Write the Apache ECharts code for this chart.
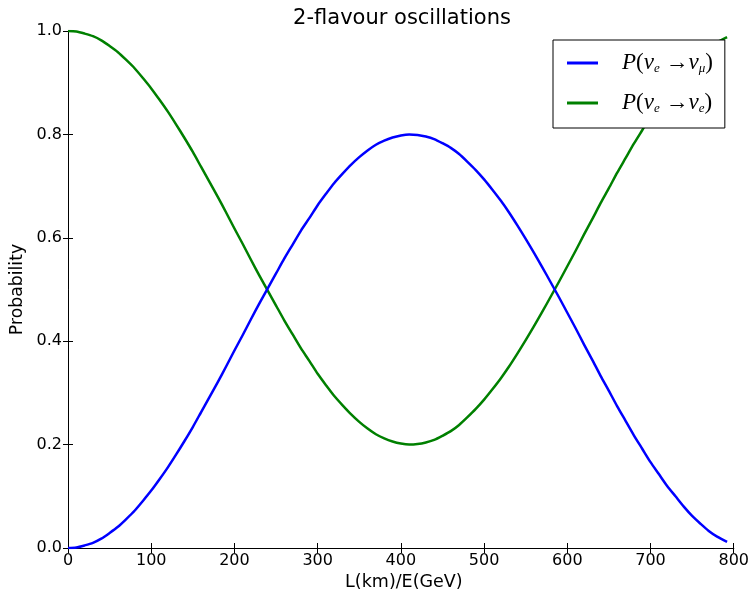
<!DOCTYPE html>
<html>
<head>
<meta charset="utf-8">
<script src="https://cdn.jsdelivr.net/npm/echarts@6/dist/echarts.min.js"></script>
<style>html,body{margin:0;padding:0;background:#fff;}#c{width:752px;height:597px;}</style>
</head>
<body>
<div id="c"></div>
<script>
// L/E values (km/GeV)
var xs = [0,10,20,30,40,50,60,70,80,90,100,110,120,130,140,150,160,170,180,190,200,210,220,230,240,250,260,270,280,290,300,310,320,330,340,350,360,370,380,390,400,410,420,430,440,450,460,470,480,490,500,510,520,530,540,550,560,570,580,590,600,610,620,630,640,650,660,670,680,690,700,710,720,730,740,750,760,770,780,792];
// P(nu_e -> nu_mu)
var pMu = [0,0.001,0.005,0.010,0.018,0.029,0.041,0.056,0.072,0.091,0.111,0.133,0.156,0.181,0.207,0.234,0.263,0.292,0.321,0.351,0.382,0.412,0.443,0.473,0.502,0.531,0.560,0.587,0.614,0.638,0.663,0.685,0.706,0.724,0.741,0.756,0.769,0.780,0.788,0.794,0.798,0.800,0.799,0.796,0.791,0.783,0.774,0.762,0.747,0.731,0.713,0.693,0.672,0.649,0.624,0.598,0.571,0.543,0.514,0.485,0.455,0.425,0.394,0.364,0.333,0.304,0.274,0.246,0.218,0.192,0.166,0.143,0.120,0.100,0.080,0.062,0.047,0.033,0.022,0.012];
// P(nu_e -> nu_e)
var pE = [1,0.999,0.995,0.990,0.982,0.971,0.959,0.944,0.928,0.909,0.889,0.867,0.844,0.819,0.793,0.766,0.737,0.708,0.679,0.649,0.618,0.588,0.557,0.527,0.498,0.469,0.440,0.413,0.386,0.362,0.337,0.315,0.294,0.276,0.259,0.244,0.231,0.220,0.212,0.206,0.202,0.200,0.201,0.204,0.209,0.217,0.226,0.238,0.253,0.269,0.287,0.307,0.328,0.351,0.376,0.402,0.429,0.457,0.486,0.515,0.545,0.575,0.606,0.636,0.667,0.696,0.726,0.754,0.782,0.808,0.834,0.857,0.880,0.900,0.920,0.938,0.953,0.967,0.978,0.988];
var xTicks = [0,100,200,300,400,500,600,700,800];
var yTicks = [0.0,0.2,0.4,0.6,0.8,1.0];
var seriesNames = ['mu','e'];

function pairs(a){ return xs.map(function(x,i){return [x,a[i]];}); }

var chart = echarts.init(document.getElementById('c'), null, {renderer:'canvas'});
var font = 'DejaVu Sans';
var axisCommon = {
  axisLine:{show:true, lineStyle:{color:'#000', width:1}},
  axisTick:{show:true, inside:true, length:5, lineStyle:{color:'#000'}},
  splitLine:{show:false}
};
var rich = {
  i:{fontFamily:'Liberation Serif', fontStyle:'italic', fontSize:23, color:'#000'},
  n:{fontFamily:'Liberation Serif', fontSize:23, color:'#000'},
  s:{fontFamily:'Liberation Serif', fontStyle:'italic', fontSize:13, color:'#000', padding:[12,0,0,0]},
  g:{width:19}
};
chart.setOption({
  animation:false,
  backgroundColor:'#fff',
  title:{text:'2-flavour oscillations', left:397, top:3, textAlign:'center',
    textStyle:{fontFamily:font, fontWeight:'normal', fontSize:21, color:'#000'}},
  grid:{left:68, right:17, top:31, bottom:49},
  legend:{
    orient:'vertical', left:553, top:40,
    backgroundColor:'#fff', borderColor:'#000', borderWidth:1,
    padding:[10,12,12,14], itemGap:14,
    itemWidth:31, itemHeight:3, icon:'rect',
    data:seriesNames,
    formatter:function(n){
      if(n==='mu') return '{g|}{i|P}{n|(}{i|ν}{s|e}{n| →}{i|ν}{s|μ}{n|)}';
      return '{g|}{i|P}{n|(}{i|ν}{s|e}{n| →}{i|ν}{s|e}{n|)}';
    },
    textStyle:{rich:rich, lineHeight:26}
  },
  xAxis:[
    Object.assign({type:'value', min:0, max:800, interval:100, position:'bottom',
      name:'L(km)/E(GeV)', nameLocation:'middle', nameGap:25,
      nameTextStyle:{fontFamily:font, fontSize:17.5, color:'#000', padding:[0,0,0,6]},
      axisLabel:{fontFamily:font, fontSize:16, color:'#000', margin:5}}, axisCommon),
    Object.assign({type:'value', min:0, max:800, interval:100, position:'top',
      axisLabel:{show:false}}, axisCommon)
  ],
  yAxis:[
    Object.assign({type:'value', min:0, max:1, interval:0.2, position:'left',
      name:'Probability', nameLocation:'middle', nameGap:39, nameRotate:90,
      nameTextStyle:{fontFamily:font, fontSize:17.3, color:'#000'},
      axisLabel:{fontFamily:font, fontSize:16, color:'#000', margin:6,
        formatter:function(v){return v.toFixed(1);}}}, axisCommon),
    Object.assign({type:'value', min:0, max:1, interval:0.2, position:'right',
      axisLabel:{show:false}}, axisCommon)
  ],
  series:[
    {name:'mu', type:'line', data:pairs(pMu), showSymbol:false, symbol:'none', smooth:0.25,
      lineStyle:{color:'#0000ff', width:2.5, join:'round'}, itemStyle:{color:'#0000ff'}, z:3},
    {name:'e', type:'line', data:pairs(pE), showSymbol:false, symbol:'none', smooth:0.25,
      lineStyle:{color:'#008000', width:2.5, join:'round'}, itemStyle:{color:'#008000'}, z:2}
  ]
});
</script>
</body>
</html>
